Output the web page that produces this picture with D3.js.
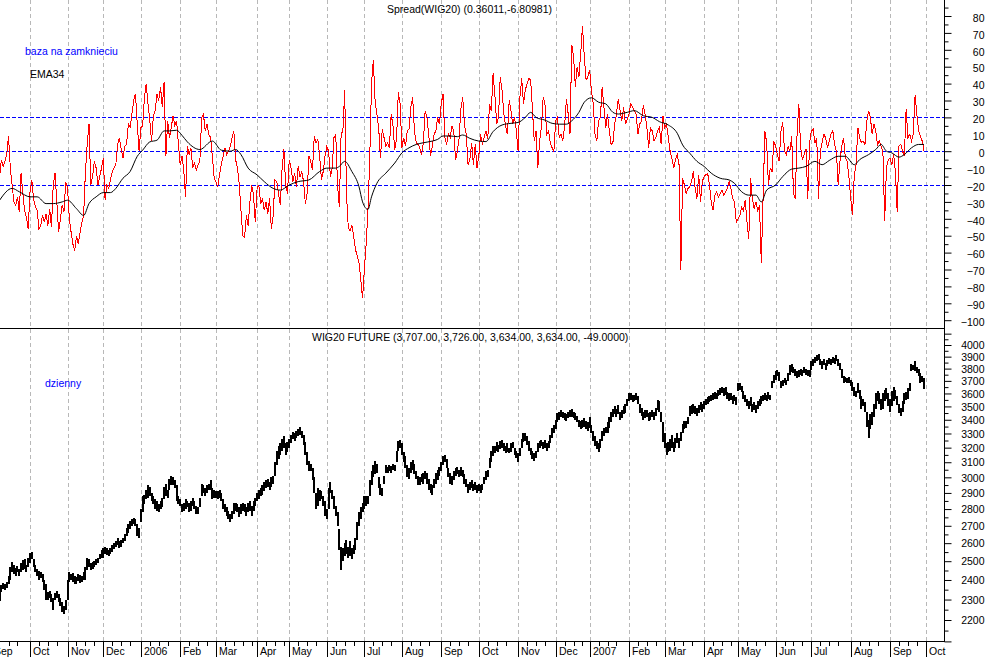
<!DOCTYPE html>
<html>
<head>
<meta charset="utf-8">
<script src="https://cdn.jsdelivr.net/npm/d3@7"></script>
<style>
  body { margin: 0; background: #fff; }
  svg text { font-family: Arial, "Liberation Sans", sans-serif; font-size: 10.5px; }
</style>
</head>
<body>
<svg id="chart" width="988" height="657"></svg>
<script>
// --- Données ---
const monthLabels = ["Sep","Oct","Nov","Dec","2006","Feb","Mar","Apr","May","Jun","Jul","Aug","Sep",
                     "Oct","Nov","Dec","2007","Feb","Mar","Apr","May","Jun","Jul","Aug","Sep","Oct"];
// nombre de séances par mois (Sep 2005 -> Sep 2007)
const monthDays = [22,21,20,21,22,20,23,18,21,21,21,22,21,22,21,19,22,20,22,19,21,20,22,22,20];
const firstMonthStart = -5;

// Spread(WIG20), une valeur par séance
const spread = [
  -15,-5,-9,-6,-2,9,-10,-20,-30,-32,
  -27,-36,-13,-25,-35,-39,-46,-24,-17,-28,
  -33,-35,-46,-44,-38,-42,-37,-44,-34,-45,
  -20,-13,-30,-48,-40,-32,-36,-18,-22,-40,
  -48,-55,-59,-50,-55,-48,-42,-38,-12,4,
  16,-20,-15,-6,-10,-20,-15,-10,-4,-29,
  -20,-22,-17,-12,-10,-8,4,8,1,-4,
  3,4,16,14,22,30,34,16,0,14,
  15,32,40,28,18,6,21,24,34,30,
  38,26,41,-3,18,8,14,21,15,18,
  4,-8,-3,-11,-27,3,-2,2,-10,-7,
  -11,-8,-6,20,22,12,16,10,8,-3,
  -16,-18,-21,-14,-8,-3,2,-2,0,3,
  8,12,-5,-10,-19,
  -35,-50,-51,-38,-44,-30,-20,-26,-42,-22,
  -20,-31,-28,-35,-30,-37,-28,-46,-38,-17,
  -18,-25,-32,-10,1,-20,-25,-5,-10,-18,
  -13,-21,-9,-15,-12,-18,-31,-25,-3,-6,
  -11,9,5,7,-3,-17,-12,-3,3,0,
  -15,-10,8,10,-20,-33,10,12,36,-25,
  -45,-47,-44,-50,-58,-62,-66,-76,-87,-70,
  -55,-35,-5,40,54,30,22,14,-4,13,
  8,3,5,2,22,15,1,7,35,28,
  2,8,3,12,13,26,32,12,5,4,
  2,-2,5,24,20,10,-3,3,10,12,
  20,16,28,34,8,4,10,8,15,12,
  -5,0,8,25,32,15,10,-8,-5,5,
  -8,4,-10,-3,10,4,8,12,7,28,
  24,46,33,16,20,44,36,22,15,10,
  30,24,16,20,12,0,32,43,28,36,
  40,43,42,25,6,12,-10,6,14,32,
  28,10,12,5,2,0,18,20,8,10,
  6,15,31,22,10,63,56,38,50,44,
  58,74,56,42,44,48,36,28,10,6,
  18,20,38,26,14,22,12,4,5,16,
  22,31,24,18,26,16,19,22,28,26,
  24,22,10,16,18,27,22,14,2,14,
  12,6,8,12,14,4,21,14,16,8,
  0,-4,-10,-5,-2,-8,-70,-16,-20,-25,
  -22,-21,-18,-12,-22,-28,-14,-30,-18,-15,
  -14,-13,-20,-30,-35,-26,-24,-27,-25,-23,
  -26,-24,-22,-18,-22,-28,-30,-42,-40,-38,
  -33,-35,-29,-42,-52,-16,-28,-34,-30,-35,
  -32,-66,-28,12,5,-20,-10,-12,6,3,
  -2,-6,12,17,0,-2,3,0,9,-25,
  -28,10,28,2,-5,-2,1,-28,5,12,
  13,5,8,-28,0,5,10,8,2,6,
  10,12,4,0,-20,-6,3,8,-4,-6,
  -15,-28,-38,-14,-8,14,8,5,6,4,
  18,24,20,10,16,12,4,6,3,0,
  -41,-10,-5,-4,-8,-2,-12,-36,3,4,
  0,-3,25,8,10,6,10,33,22,12,
  9,6,0.4
];

// EMA34, points relevés (séance, valeur)
const emaDay = [0,7,11,17,21,26,30,35,38,43,47,50,54,58,62,65,69,73,77,80,
  84,88,92,95,99,102,105,112,119,124,129,132,135,139,144,148,153,157,162,167,
  173,179,183,188,190,193,197,201,203,206,208,211,216,221,225,229,233,237,242,245,
  248,252,256,259,263,268,272,276,281,286,290,294,297,300,305,309,313,317,320,324,
  327,331,335,339,343,346,351,355,360,365,369,374,379,382,386,390,394,398,403,408,
  411,415,419,423,426,429,434,438,443,447,451,456,460,464,469,473,478,481,486,490,
  493,496,499,503,506,510,514,517];
const emaValue = [-29,-22,-24,-27,-27,-31,-31,-30,-29,-34,-38,-31,-27,-24.5,-24.5,-22,-16,-12,-3,0.6,
  5.5,6.5,12,12,12.4,9.4,5.5,1,6,0.6,0,1,-2,-10,-14,-18,-22,-23,-20,-18,
  -17,-12,-10,-10,-9,-6,-12,-21,-30,-34.5,-27,-19,-13,-7,-1,2,4,5,6,7,
  9,9,8.6,9.6,7.6,6,5.7,11.6,15.5,16.5,17,20,23,20,18.4,16.5,16,16,18,23,
  29,31.6,29,28,23,22,23,24,21,20,17.5,15.5,10.6,3.7,-1.2,-6,-9,-13,-16,-17,
  -19,-24,-26,-26,-30,-23,-20,-15,-10.6,-10,-9,-6,-8,-5.5,-3,-3,-8,-5,-2,1,
  4,0,-1,-3.5,-2,2,4,4];

// WIG20 FUTURE, plus bas / plus haut par séance
const wigLow = [
  2295,2340,2355,2350,2360,2380,2400,2440,2430,2420,
  2440,2420,2440,2450,2460,2440,2470,2490,2510,2470,
  2440,2420,2400,2410,2390,2350,2300,2300,2310,2290,
  2250,2300,2310,2290,2270,2240,2230,2250,2300,2390,
  2400,2390,2380,2380,2395,2385,2390,2400,2400,2450,
  2470,2450,2460,2470,2480,2490,2510,2520,2520,2540,
  2535,2530,2540,2550,2565,2580,2590,2570,2580,2600,
  2610,2640,2660,2680,2700,2710,2700,2640,2630,2720,
  2780,2830,2860,2870,2880,2850,2830,2800,2790,2780,
  2800,2810,2860,2880,2870,2920,2950,2950,2930,2850,
  2830,2820,2780,2790,2800,2810,2780,2790,2820,2800,
  2770,2770,2810,2880,2900,2880,2900,2920,2920,2860,
  2870,2870,2860,2870,2850,2800,2780,2760,2740,2720,
  2740,2770,2790,2780,2750,2770,2790,2780,2760,2780,
  2790,2760,2790,2820,2850,2860,2880,2890,2910,2930,
  2940,2920,2940,2960,3010,3080,3120,3150,3180,3200,
  3150,3170,3200,3230,3260,3250,3270,3280,3290,3270,
  3220,3150,3080,3040,3040,2980,2900,2800,2820,2850,
  2860,2820,2760,2740,2800,2900,2860,2800,2760,2700,
  2560,2450,2500,2530,2540,2520,2530,2510,2540,2560,
  2620,2700,2740,2780,2800,2820,2830,2880,2950,3000,
  3020,3030,2930,2890,2880,2960,3030,3030,3040,3030,
  3050,3040,3100,3180,3200,3150,3100,3060,3000,2990,
  3030,3050,3020,2990,2950,2950,2970,2960,2990,2960,
  2920,2900,2890,2930,2960,2980,3010,3040,3080,3100,
  3060,3000,2960,2950,2980,3010,3020,3000,3010,3000,
  2960,2940,2900,2920,2930,2910,2920,2900,2910,2900,
  2920,2960,2980,3000,3060,3100,3140,3160,3180,3170,
  3190,3200,3180,3160,3170,3160,3170,3200,3150,3130,
  3100,3140,3200,3240,3250,3220,3180,3150,3120,3110,
  3130,3170,3200,3210,3190,3200,3180,3200,3230,3270,
  3300,3330,3380,3400,3420,3410,3400,3390,3410,3420,
  3420,3410,3400,3380,3350,3330,3340,3350,3330,3320,
  3340,3300,3250,3210,3190,3170,3200,3250,3280,3300,
  3300,3340,3380,3420,3440,3420,3440,3400,3410,3440,
  3450,3500,3540,3550,3530,3540,3550,3520,3450,3430,
  3400,3410,3420,3390,3400,3420,3400,3430,3470,3460,
  3380,3240,3200,3150,3170,3180,3200,3170,3200,3230,
  3200,3250,3300,3330,3340,3370,3430,3440,3450,3440,
  3430,3450,3470,3460,3480,3510,3520,3530,3540,3550,
  3560,3560,3580,3590,3600,3580,3590,3560,3540,3550,
  3520,3540,3510,3620,3630,3610,3560,3530,3500,3480,
  3500,3460,3470,3450,3480,3500,3520,3540,3550,3540,
  3560,3550,3640,3680,3710,3740,3700,3640,3660,3680,
  3670,3700,3750,3770,3760,3740,3720,3730,3750,3740,
  3760,3750,3740,3730,3790,3820,3850,3860,3870,3830,
  3800,3830,3790,3820,3840,3830,3850,3840,3860,3820,
  3790,3720,3680,3690,3680,3680,3660,3620,3580,3570,
  3600,3560,3480,3500,3460,3350,3270,3330,3360,3420,
  3480,3540,3520,3470,3480,3540,3560,3500,3460,3500,
  3540,3560,3510,3450,3430,3460,3520,3550,3560,3620,
  3780,3790,3780,3760,3740,3680,3690,3634
];
const wigHigh = [
  2345,2375,2385,2380,2390,2420,2470,2495,2480,2465,
  2475,2460,2490,2505,2510,2480,2520,2545,2550,2510,
  2480,2460,2445,2440,2430,2400,2380,2340,2345,2330,
  2310,2335,2345,2330,2310,2290,2270,2300,2400,2440,
  2430,2435,2420,2415,2430,2425,2420,2440,2470,2520,
  2510,2490,2495,2500,2510,2520,2540,2560,2575,2580,
  2570,2560,2570,2590,2600,2615,2630,2610,2620,2630,
  2650,2690,2710,2730,2740,2745,2740,2710,2690,2800,
  2880,2890,2920,2950,2940,2900,2880,2860,2850,2830,
  2850,2870,2940,2955,2920,2990,3010,3005,2980,2950,
  2880,2860,2830,2840,2860,2850,2840,2850,2870,2850,
  2820,2810,2870,2960,2950,2930,2950,2960,2980,2930,
  2920,2910,2910,2920,2900,2860,2830,2810,2790,2770,
  2790,2840,2840,2830,2810,2830,2840,2830,2810,2840,
  2850,2820,2850,2870,2900,2920,2930,2950,2970,2980,
  2990,2970,3000,3010,3100,3180,3210,3230,3260,3280,
  3230,3240,3260,3290,3310,3300,3320,3330,3345,3320,
  3290,3240,3170,3110,3090,3060,3000,2900,2930,2920,
  2915,2880,2850,2800,2930,2970,2920,2880,2820,2780,
  2680,2580,2570,2600,2620,2580,2610,2570,2590,2630,
  2720,2780,2810,2840,2880,2880,2880,2980,3040,3080,
  3110,3090,3000,2960,2930,3010,3080,3070,3080,3075,
  3090,3080,3180,3250,3255,3230,3170,3140,3080,3060,
  3100,3117,3090,3040,3010,3000,3020,3030,3040,3030,
  2990,2960,2950,2990,3030,3050,3070,3100,3140,3150,
  3120,3060,3030,3010,3040,3060,3070,3050,3065,3050,
  3020,2990,2960,2970,2985,2960,2970,2950,2960,2950,
  2960,3000,3040,3050,3130,3180,3210,3210,3240,3220,
  3250,3255,3230,3210,3230,3200,3230,3240,3200,3180,
  3160,3200,3260,3300,3305,3280,3250,3200,3180,3160,
  3180,3230,3250,3255,3240,3255,3230,3250,3290,3340,
  3360,3400,3450,3460,3475,3460,3450,3440,3460,3475,
  3480,3460,3450,3430,3400,3390,3400,3410,3390,3380,
  3420,3360,3320,3280,3250,3230,3260,3320,3340,3350,
  3380,3420,3460,3480,3500,3480,3510,3460,3470,3500,
  3520,3560,3600,3600,3590,3590,3600,3580,3520,3490,
  3460,3470,3475,3450,3460,3470,3460,3490,3550,3540,
  3460,3380,3300,3230,3240,3260,3290,3240,3270,3300,
  3270,3310,3370,3390,3390,3420,3500,3510,3520,3500,
  3490,3510,3530,3520,3540,3560,3570,3580,3590,3600,
  3610,3600,3630,3640,3650,3640,3650,3610,3600,3600,
  3580,3590,3570,3680,3680,3660,3620,3590,3560,3540,
  3570,3520,3530,3510,3540,3560,3580,3590,3600,3590,
  3610,3590,3700,3750,3780,3790,3770,3700,3710,3720,
  3710,3760,3830,3840,3810,3800,3780,3790,3800,3790,
  3810,3800,3790,3790,3860,3880,3900,3910,3920,3880,
  3860,3880,3850,3870,3890,3880,3900,3890,3910,3880,
  3850,3800,3740,3730,3720,3730,3710,3690,3650,3620,
  3680,3630,3580,3560,3530,3460,3400,3440,3460,3520,
  3600,3620,3600,3560,3600,3630,3640,3600,3560,3620,
  3650,3630,3580,3520,3490,3540,3600,3610,3640,3680,
  3840,3830,3860,3810,3800,3760,3740,3726
];

const spreadTicks = d3.range(-100, 81, 10);
const spreadLevels = [20, 0, -20];
const wigTicks = d3.range(2200, 4001, 100);

// --- Mise en page ---
const svg = d3.select("#chart");
const W = 988, H = 657;
const axisX = 944.5;     // axe vertical de droite
const sepY = 328.5;      // séparation entre les deux panneaux
const baseY = 641.5;     // axe du temps

svg.append("rect").attr("width", W).attr("height", H).attr("fill", "#fff");

const x = d3.scaleLinear().domain([0, 518]).range([-0.4, 925.8]);
const ySpread = d3.scaleLinear().domain([-100, 80]).range([320.2, 16]);
const yWig = d3.scaleLog().domain([2200, 4000]).range([620, 345]);

// débuts de mois en index de séance
const monthStart = [firstMonthStart];
monthDays.forEach(n => monthStart.push(monthStart[monthStart.length - 1] + n));

// Grille verticale (début de mois)
svg.append("g")
  .attr("shape-rendering", "crispEdges")
  .selectAll("line")
  .data(monthStart.filter(d => x(d) > 0 && x(d) < axisX))
  .join("line")
  .attr("x1", d => Math.round(x(d)) + 0.5).attr("x2", d => Math.round(x(d)) + 0.5)
  .attr("y1", 0).attr("y2", baseY)
  .attr("stroke", "#b8b8b8").attr("stroke-dasharray", "4,3");

// Niveaux horizontaux pointillés bleus
svg.append("g")
  .attr("shape-rendering", "crispEdges")
  .selectAll("line")
  .data(spreadLevels)
  .join("line")
  .attr("x1", 0).attr("x2", axisX)
  .attr("y1", d => Math.round(ySpread(d)) + 0.5).attr("y2", d => Math.round(ySpread(d)) + 0.5)
  .attr("stroke", "#0000ff").attr("stroke-dasharray", "4,2");

// Spread (rouge)
svg.append("path")
  .datum(spread)
  .attr("fill", "none")
  .attr("stroke", "#ff0000")
  .attr("stroke-width", 1)
  .attr("shape-rendering", "crispEdges")
  .attr("d", d3.line().x((d, i) => x(i)).y(d => ySpread(d)));

// EMA34 (noir)
svg.append("path")
  .datum(emaDay.map((d, i) => [d, emaValue[i]]))
  .attr("fill", "none")
  .attr("stroke", "#000")
  .attr("stroke-width", 1)
  .attr("d", d3.line().x(d => x(d[0])).y(d => ySpread(d[1])).curve(d3.curveMonotoneX));

// WIG20 : barres plus bas / plus haut
svg.append("g")
  .attr("shape-rendering", "crispEdges")
  .selectAll("rect")
  .data(wigLow.map((lo, i) => ({ i, lo, hi: wigHigh[i] })))
  .join("rect")
  .attr("x", d => x(d.i) - 1)
  .attr("width", 2)
  .attr("y", d => yWig(d.hi))
  .attr("height", d => Math.max(1, yWig(d.lo) - yWig(d.hi)))
  .attr("fill", "#000");

// Séparation des panneaux et axes
const frame = svg.append("g").attr("shape-rendering", "crispEdges").attr("stroke", "#000");
frame.append("line").attr("x1", 0).attr("x2", axisX).attr("y1", sepY).attr("y2", sepY);
frame.append("line").attr("x1", axisX).attr("x2", axisX).attr("y1", 0).attr("y2", baseY);
frame.append("line").attr("x1", 0).attr("x2", axisX).attr("y1", baseY).attr("y2", baseY);

// Axe droit du panneau supérieur
const spreadMinor = d3.range(-105, 91, 5).filter(v => v % 10 !== 0 && ySpread(v) > 0 && ySpread(v) < sepY);
svg.append("g")
  .attr("transform", `translate(${axisX},0)`)
  .call(d3.axisRight(ySpread).tickValues(spreadMinor).tickSize(4).tickFormat(""))
  .call(g => g.select(".domain").remove());
svg.append("g")
  .attr("transform", `translate(${axisX},0)`)
  .call(d3.axisRight(ySpread).tickValues(spreadTicks).tickSize(7).tickFormat(d3.format("d")))
  .call(g => g.select(".domain").remove())
  .call(g => g.selectAll("text")
    .attr("x", 40).attr("dy", "0.5em").attr("text-anchor", "end")
    .attr("fill", "#000").style("font-size", "10.5px").style("font-family", "Arial, 'Liberation Sans', sans-serif"));

// Axe droit du panneau inférieur (échelle log)
const wigMinor = d3.range(2150, 4151, 50).filter(v => v % 100 !== 0 && yWig(v) > sepY && yWig(v) < baseY);
const wigMajorAll = d3.range(2100, 4201, 100).filter(v => yWig(v) > sepY && yWig(v) < baseY);
svg.append("g")
  .attr("transform", `translate(${axisX},0)`)
  .call(d3.axisRight(yWig).tickValues(wigMinor).tickSize(4).tickFormat(""))
  .call(g => g.select(".domain").remove());
svg.append("g")
  .attr("transform", `translate(${axisX},0)`)
  .call(d3.axisRight(yWig).tickValues(wigMajorAll).tickSize(7)
    .tickFormat(d => wigTicks.includes(d) ? d : ""))
  .call(g => g.select(".domain").remove())
  .call(g => g.selectAll("text")
    .attr("x", 40).attr("dy", "0.35em").attr("text-anchor", "end")
    .attr("fill", "#000").style("font-size", "10.5px").style("font-family", "Arial, 'Liberation Sans', sans-serif"));

// Axe du temps : mois et petites graduations
const weekTicks = [];
monthStart.slice(0, -1).forEach((s, m) => {
  for (let k = 5; k < monthDays[m] - 2; k += 5) weekTicks.push(s + k);
});
svg.append("g")
  .attr("shape-rendering", "crispEdges")
  .selectAll("line")
  .data(weekTicks.filter(d => x(d) > 0 && x(d) < axisX))
  .join("line")
  .attr("x1", d => Math.round(x(d)) + 0.5).attr("x2", d => Math.round(x(d)) + 0.5)
  .attr("y1", baseY).attr("y2", baseY + 4)
  .attr("stroke", "#000");

const months = svg.append("g")
  .selectAll("g")
  .data(monthStart.map((s, i) => ({ s, label: monthLabels[i] })))
  .join("g")
  .attr("transform", d => `translate(${Math.round(x(d.s)) + 0.5},0)`);
months.append("line")
  .attr("y1", baseY).attr("y2", H)
  .attr("stroke", "#000").attr("shape-rendering", "crispEdges");
months.append("text")
  .attr("x", 2.5).attr("y", 655)
  .text(d => d.label);

// Textes
svg.append("text").attr("x", 387).attr("y", 13).text("Spread(WIG20) (0.36011,-6.80981)");
svg.append("text").attr("x", 25).attr("y", 55).attr("fill", "#0000ff").text("baza na zamknieciu");
svg.append("text").attr("x", 30).attr("y", 78).text("EMA34");
svg.append("text").attr("x", 312).attr("y", 341)
  .text("WIG20 FUTURE (3,707.00, 3,726.00, 3,634.00, 3,634.00, -49.0000)");
svg.append("text").attr("x", 45).attr("y", 387).attr("fill", "#0000ff").text("dzienny");
</script>
</body>
</html>
